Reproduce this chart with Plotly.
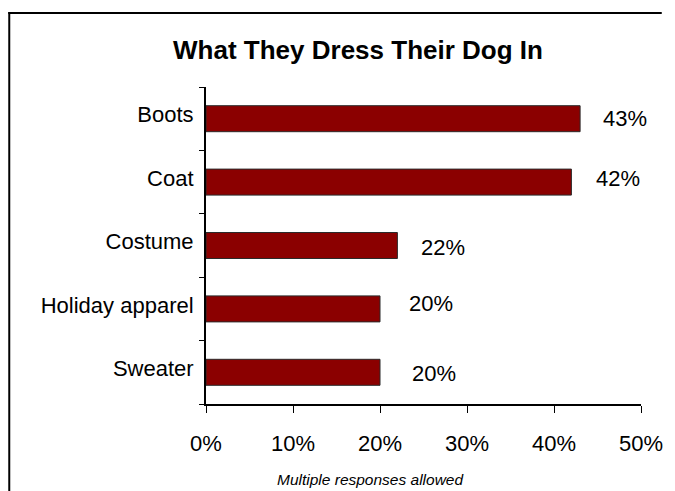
import plotly.graph_objects as go

# Survey results: what owners dress their dog in (share of respondents, %)
categories = ["Boots", "Coat", "Costume", "Holiday apparel", "Sweater"]
shares = [43, 42, 22, 20, 20]
x_ticks = [0, 10, 20, 30, 40, 50]
x_tick_labels = ["0%", "10%", "20%", "30%", "40%", "50%"]

# small per-label nudges (px) for the value labels beside each bar
label_dx = [21, 23, 22, 27, 30]
label_dy = [0, 4, -2, 5, -1]

W, H = 675, 491
ML, MR, MT, MB = 206, 29, 87, 87
PW, PH = W - ML - MR, H - MT - MB
FONT = "Liberation Sans, Arial, sans-serif"
BAR_RED = "#8B0000"


def px_x(px):
    """Figure pixel column -> plot-area paper fraction."""
    return (px - ML) / PW


def px_y(py):
    """Figure pixel row -> plot-area paper fraction."""
    return (H - MB - py) / PH


fig = go.Figure(
    go.Bar(
        x=shares,
        y=categories,
        orientation="h",
        width=0.41,
        marker=dict(color=BAR_RED, line=dict(color="#2a2a2a", width=1)),
        hoverinfo="skip",
    )
)

for cat, val, dx, dy in zip(categories, shares, label_dx, label_dy):
    fig.add_annotation(
        x=val, y=cat, xref="x", yref="y",
        text=f"{val}%", showarrow=False,
        xanchor="left", yanchor="middle",
        xshift=dx, yshift=dy,
        font=dict(family=FONT, size=22, color="black"),
    )

# footnote under the axis
fig.add_annotation(
    x=px_x(372), y=px_y(479), xref="paper", yref="paper",
    text="<i>Multiple responses allowed</i>", showarrow=False,
    xanchor="center", yanchor="middle",
    font=dict(family=FONT, size=15.5, color="black"),
)

# outer frame: only its top and left edges fall inside the figure
frame = dict(color="black", width=2)
fig.add_shape(type="line", xref="paper", yref="paper",
              x0=px_x(6), x1=px_x(W - 8), y0=px_y(13), y1=px_y(13),
              line=frame, layer="above")
fig.add_shape(type="line", xref="paper", yref="paper",
              x0=px_x(7), x1=px_x(7), y0=px_y(12), y1=px_y(H),
              line=frame, layer="above")

fig.update_layout(
    width=W, height=H,
    margin=dict(l=ML, r=MR, t=MT, b=MB, pad=0),
    paper_bgcolor="white", plot_bgcolor="white",
    showlegend=False,
    title=dict(
        text="<b>What They Dress Their Dog In</b>",
        x=358 / W, xanchor="center", xref="container",
        y=1 - 50 / H, yanchor="middle", yref="container",
        font=dict(family=FONT, size=26, color="black"),
    ),
    xaxis=dict(
        range=[0, 50], tickvals=x_ticks, ticktext=x_tick_labels,
        showgrid=False, zeroline=False,
        showline=True, linecolor="black", linewidth=2,
        ticks="outside", ticklen=7, tickwidth=1, tickcolor="black",
        tickfont=dict(family=FONT, size=22, color="black"),
        ticklabelstandoff=12,
        fixedrange=True,
    ),
    yaxis=dict(
        categoryorder="array", categoryarray=categories[::-1],
        range=[-0.5, 4.5],
        showgrid=False, zeroline=False,
        showline=True, linecolor="black", linewidth=2,
        ticks="outside", tickson="boundaries", ticklen=5, tickwidth=1,
        tickcolor="black",
        tickfont=dict(family=FONT, size=22, color="black"),
        ticklabelstandoff=6, ticklabelshift=-4,
        fixedrange=True,
    ),
)

fig.write_html("out.html", config={"displayModeBar": False})
